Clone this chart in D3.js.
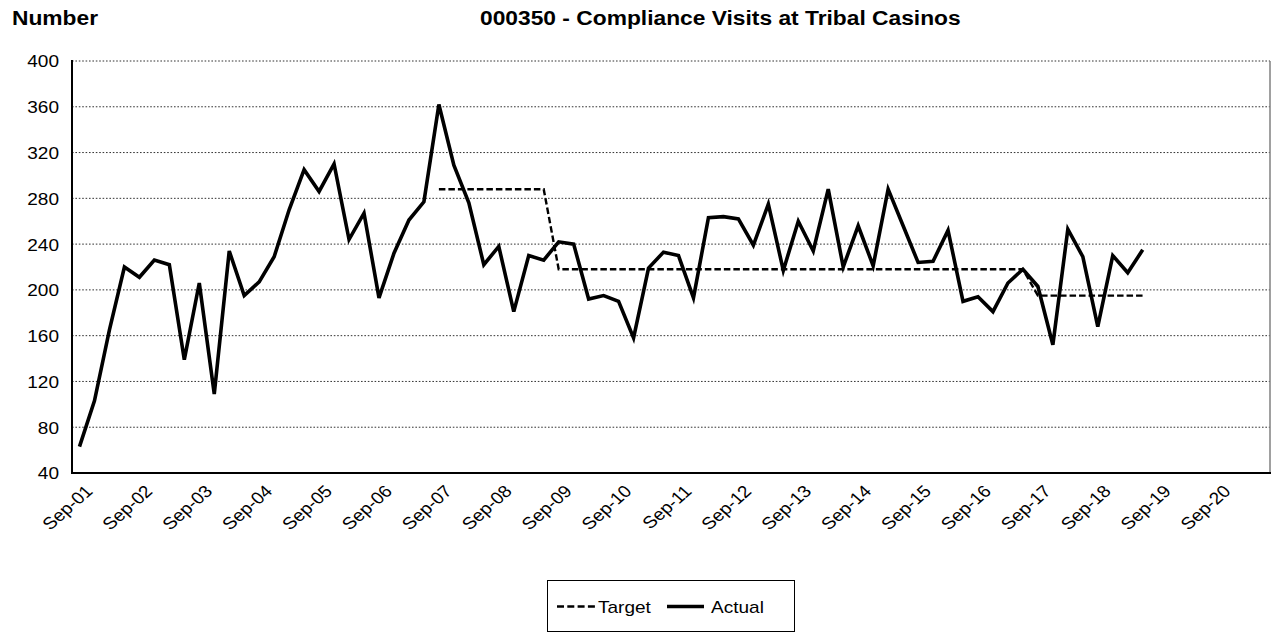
<!DOCTYPE html>
<html>
<head>
<meta charset="utf-8">
<script src="https://cdn.jsdelivr.net/npm/d3@7"></script>
<style>
  html, body { margin: 0; padding: 0; background: #fff; }
  svg { display: block; font-family: "Liberation Sans", Arial, sans-serif; }
</style>
</head>
<body>
<svg id="chart" width="1278" height="635"></svg>
<script>
// ---------------- data ----------------
const tickLabels = ["Sep-01","Sep-02","Sep-03","Sep-04","Sep-05","Sep-06","Sep-07","Sep-08","Sep-09","Sep-10",
                    "Sep-11","Sep-12","Sep-13","Sep-14","Sep-15","Sep-16","Sep-17","Sep-18","Sep-19","Sep-20"];
const quarterMonths = ["Sep","Dec","Mar","Jun"];
const yTicks = [40, 80, 120, 160, 200, 240, 280, 320, 360, 400];
const actual = [63,103,165,220,211,226,222,139,206,109,
                234,195,207,229,270,305,286,310,244,267,
                193,232,261,277,362,309,276,222,238,181,
                230,226,242,240,192,195,190,158,219,233,
                230,193,263,264,262,239,275,217,260,234,
                288,220,256,221,288,256,224,225,252,190,
                194,181,206,218,203,152,253,229,168,230,
                215,235];
const target = [null,null,null,null,null,null,null,null,null,null,
                null,null,null,null,null,null,null,null,null,null,
                null,null,null,null,288,288,288,288,288,288,
                288,288,218,218,218,218,218,218,218,218,
                218,218,218,218,218,218,218,218,218,218,
                218,218,218,218,218,218,218,218,218,218,
                218,218,218,218,195,195,195,195,195,195,
                195,195];
const titleLeft = "Number";
const titleMain = "000350 - Compliance Visits at Tribal Casinos";
const legendItems = ["Target", "Actual"];

// categories: quarterly from Sep-01 to Jun-21 (80 categories)
const categories = [];
tickLabels.forEach((t, k) => {
  const yy = +t.slice(4);
  quarterMonths.forEach((m, q) => {
    const yr = (q >= 2 ? yy + 1 : yy);
    categories.push(m + "-" + String(yr).padStart(2, "0"));
  });
});

// ---------------- layout ----------------
const L = 72, R = 1270, T = 61, B = 473;
const SX = 1.12;     // horizontal stretch of text seen in the reference
const svg = d3.select("#chart");

const x = d3.scalePoint().domain(categories).range([L, R]).padding(0.5);
const y = d3.scaleLinear().domain([40, 400]).range([B, T]);

// gridlines
svg.append("g").selectAll("line").data(yTicks.filter(v => v > 40)).join("line")
  .attr("x1", L).attr("x2", R)
  .attr("y1", d => y(d)).attr("y2", d => y(d))
  .attr("stroke", "#333").attr("stroke-width", 1).attr("stroke-dasharray", "1.6,1.8");

// right border
svg.append("line").attr("x1", R).attr("x2", R).attr("y1", T).attr("y2", B)
  .attr("stroke", "#808080").attr("stroke-width", 1.5);

// y axis labels
const yAxis = svg.append("g").attr("transform", `translate(${L},0)`)
  .call(d3.axisLeft(y).tickValues(yTicks).tickSize(0).tickPadding(0));
yAxis.select(".domain").remove();
yAxis.selectAll("text")
  .attr("x", 0).attr("dy", "0.35em")
  .attr("transform", `translate(-13,0) scale(${SX},1)`)
  .attr("font-size", 17).attr("font-family", "Liberation Sans, Arial, sans-serif")
  .attr("fill", "#000").attr("text-anchor", "end");

// x axis labels
const xTickVals = categories.filter((c, i) => i % 4 === 0 && tickLabels.includes(c));
const xAxis = svg.append("g").attr("transform", `translate(0,${B})`)
  .call(d3.axisBottom(x).tickValues(xTickVals).tickSize(0).tickPadding(0));
xAxis.select(".domain").remove();
xAxis.selectAll("text")
  .attr("x", 0).attr("y", 0).attr("dy", "0.35em")
  .attr("text-anchor", "end")
  .attr("transform", `translate(9,15) scale(${SX},1) rotate(-45)`)
  .attr("font-size", 17).attr("font-family", "Liberation Sans, Arial, sans-serif")
  .attr("fill", "#000");

// axis lines
svg.append("line").attr("x1", L).attr("x2", L).attr("y1", T - 1).attr("y2", B + 1)
  .attr("stroke", "#000").attr("stroke-width", 2);
svg.append("line").attr("x1", L - 1).attr("x2", R + 1).attr("y1", B).attr("y2", B)
  .attr("stroke", "#000").attr("stroke-width", 2);

// series
const lineGen = d3.line()
  .defined(d => d.v !== null)
  .x(d => x(d.c)).y(d => y(d.v));

svg.append("path")
  .datum(categories.map((c, i) => ({ c, v: i < target.length ? target[i] : null })))
  .attr("d", lineGen)
  .attr("fill", "none").attr("stroke", "#000").attr("stroke-width", 2.4)
  .attr("stroke-dasharray", "6.5,3");

svg.append("path")
  .datum(categories.map((c, i) => ({ c, v: i < actual.length ? actual[i] : null })))
  .attr("d", lineGen)
  .attr("fill", "none").attr("stroke", "#000").attr("stroke-width", 3.6)
  .attr("stroke-linejoin", "miter");

// titles
svg.append("text").attr("transform", `translate(12,24.5) scale(1.085,1)`)
  .attr("font-size", 21).attr("font-weight", "bold").text(titleLeft);
svg.append("text").attr("transform", `translate(480,24.5) scale(1.085,1)`)
  .attr("font-size", 21).attr("font-weight", "bold").text(titleMain);

// legend
const lg = svg.append("g");
lg.append("rect").attr("x", 547.5).attr("y", 580.5).attr("width", 247).attr("height", 51)
  .attr("fill", "#fff").attr("stroke", "#000").attr("stroke-width", 1);
lg.append("line").attr("x1", 557).attr("x2", 595).attr("y1", 606.5).attr("y2", 606.5)
  .attr("stroke", "#000").attr("stroke-width", 2.4).attr("stroke-dasharray", "7,3.3");
lg.append("text").attr("transform", `translate(598,613) scale(${SX},1)`)
  .attr("font-size", 17).text(legendItems[0]);
lg.append("line").attr("x1", 667).attr("x2", 704).attr("y1", 606.5).attr("y2", 606.5)
  .attr("stroke", "#000").attr("stroke-width", 3.6);
lg.append("text").attr("transform", `translate(711,613) scale(${SX},1)`)
  .attr("font-size", 17).text(legendItems[1]);
</script>
</body>
</html>
